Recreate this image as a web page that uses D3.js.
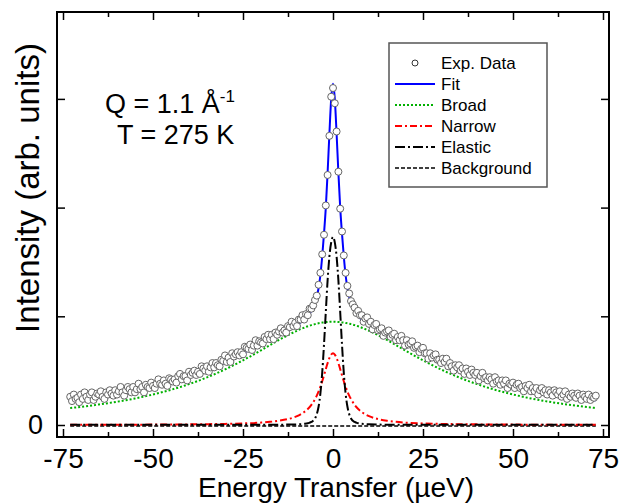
<!DOCTYPE html>
<html><head><meta charset="utf-8">
<script src="https://cdn.jsdelivr.net/npm/d3@7"></script>
<style>body{margin:0;background:#fff}svg{display:block}text{font-family:"Liberation Sans",Arial,sans-serif;fill:#000}</style>
</head><body><svg id="c" width="620" height="504"></svg>
<script>
// ---- data ----
const energy = [-73,-72.5,-72,-71.5,-71,-70.5,-70,-69.5,-69,-68.5,-68,-67.5,-67,-66.5,-66,-65.5,-65,-64.5,-64,-63.5,-63,-62.5,-62,-61.5,-61,-60.5,-60,-59.5,-59,-58.5,-58,-57.5,-57,-56.5,-56,-55.5,-55,-54.5,-54,-53.5,-53,-52.5,-52,-51.5,-51,-50.5,-50,-49.5,-49,-48.5,-48,-47.5,-47,-46.5,-46,-45.5,-45,-44.5,-44,-43.5,-43,-42.5,-42,-41.5,-41,-40.5,-40,-39.5,-39,-38.5,-38,-37.5,-37,-36.5,-36,-35.5,-35,-34.5,-34,-33.5,-33,-32.5,-32,-31.5,-31,-30.5,-30,-29.5,-29,-28.5,-28,-27.5,-27,-26.5,-26,-25.5,-25,-24.5,-24,-23.5,-23,-22.5,-22,-21.5,-21,-20.5,-20,-19.5,-19,-18.5,-18,-17.5,-17,-16.5,-16,-15.5,-15,-14.5,-14,-13.5,-13,-12.5,-12,-11.5,-11,-10.5,-10,-9.5,-9,-8.5,-8,-7.5,-7,-6.5,-6,-5.5,-5,-4.5,-4,-3.5,-3,-2.5,-2,-1.5,-1,-0.5,0,0.5,1,1.5,2,2.5,3,3.5,4,4.5,5,5.5,6,6.5,7,7.5,8,8.5,9,9.5,10,10.5,11,11.5,12,12.5,13,13.5,14,14.5,15,15.5,16,16.5,17,17.5,18,18.5,19,19.5,20,20.5,21,21.5,22,22.5,23,23.5,24,24.5,25,25.5,26,26.5,27,27.5,28,28.5,29,29.5,30,30.5,31,31.5,32,32.5,33,33.5,34,34.5,35,35.5,36,36.5,37,37.5,38,38.5,39,39.5,40,40.5,41,41.5,42,42.5,43,43.5,44,44.5,45,45.5,46,46.5,47,47.5,48,48.5,49,49.5,50,50.5,51,51.5,52,52.5,53,53.5,54,54.5,55,55.5,56,56.5,57,57.5,58,58.5,59,59.5,60,60.5,61,61.5,62,62.5,63,63.5,64,64.5,65,65.5,66,66.5,67,67.5,68,68.5,69,69.5,70,70.5,71,71.5,72,72.5,73];
const intensity = [
.26,.22,.28,.24,.25,.21,.28,.24,.30,.26,
.23,.28,.30,.23,.26,.29,.28,.31,.26,.24,
.30,.28,.32,.29,.27,.32,.28,.31,.35,.30,
.27,.32,.35,.33,.30,.35,.30,.33,.38,.33,
.35,.30,.37,.35,.34,.39,.36,.34,.38,.42,
.38,.37,.41,.38,.36,.43,.42,.40,.42,.39,
.45,.47,.42,.45,.45,.41,.49,.46,.48,.50,
.46,.49,.47,.54,.52,.50,.54,.49,.53,.57,
.53,.57,.55,.54,.60,.59,.64,.58,.62,.58,
.66,.63,.65,.67,.64,.67,.65,.72,.71,.70,
.74,.69,.73,.78,.73,.77,.76,.75,.81,.79,
.83,.79,.83,.79,.85,.83,.86,.89,.85,.87,
.85,.91,.90,.95,.91,.94,.91,.97,.97,1.01,
.97,1.02,1.01,1.07,1.07,
1.10,1.15,1.19,1.29,1.40,1.57,1.75,2.02,2.30,2.66,3.02,3.10,2.96,2.70,2.33,1.99,1.78,1.56,1.40,1.28,1.21,1.14,1.11,
1.08,1.03,1.05,1.01,1.01,.95,.98,.99,.93,.95,
.88,.92,.93,.87,.88,.89,.82,.85,.86,.87,
.81,.83,.84,.78,.81,.78,.82,.78,.73,.78,
.74,.75,.77,.71,.72,.73,.67,.70,.71,.66,
.66,.61,.66,.62,.64,.65,.60,.60,.57,.61,
.58,.61,.54,.57,.54,.50,.55,.53,.55,.50,
.52,.47,.52,.49,.46,.51,.48,.46,.48,.41,
.45,.48,.43,.44,.41,.44,.42,.38,.44,.40,
.41,.37,.41,.38,.41,.34,.38,.37,.39,.34,
.37,.38,.34,.35,.31,.36,.34,.37,.31,.34,
.31,.34,.28,.32,.34,.30,.32,.28,.32,.30,
.27,.32,.30,.28,.31,.26,.28,.31,.24,.28,
.26,.29,.27,.25,.29,.27,.23,.28,.26,.24,
.28,.23,.26,.25,.27];

const curveE = [-73,-70,-65,-60,-55,-50,-45,-40,-35,-30,-25,-20,-17.5,-15,-12.5,-10,-9,-8,-7,-6,-5,-4.5,-4,-3.5,-3,-2.5,-2,-1.5,-1,-0.5,0,0.5,1,1.5,2,2.5,3,3.5,4,4.5,5,6,7,8,9,10,12.5,15,17.5,20,25,30,35,40,45,50,55,60,65,70,73];
const fitY = [.228,.235,.256,.28,.31,.345,.385,.44,.50,.575,.66,.75,.79,.83,.87,.92,.945,.97,1.00,1.05,1.12,1.18,1.26,1.38,1.55,1.76,2.00,2.32,2.68,3.00,3.14,3.00,2.68,2.32,2.00,1.76,1.55,1.38,1.26,1.18,1.12,1.05,1.00,.97,.945,.92,.87,.83,.79,.75,.66,.575,.50,.44,.385,.345,.31,.28,.256,.235,.228];
const broadY = [.156,.167,.189,.214,.244,.281,.324,.376,.438,.511,.595,.687,.735,.782,.827,.867,.882,.895,.908,.919,.928,.932,.936,.939,.942,.944,.946,.948,.949,.95,.95,.95,.949,.948,.946,.944,.942,.939,.936,.932,.928,.919,.908,.895,.882,.867,.827,.782,.735,.687,.595,.511,.438,.376,.324,.281,.244,.214,.189,.167,.156];
const narrowY = [.0017,.0019,.0022,.0026,.0031,.0037,.0046,.0058,.0075,.010,.0145,.022,.029,.039,.0545,.081,.098,.119,.147,.185,.238,.270,.309,.353,.402,.457,.514,.569,.616,.648,.66,.648,.616,.569,.514,.457,.402,.353,.309,.270,.238,.185,.147,.119,.098,.081,.0545,.039,.029,.022,.0145,.010,.0075,.0058,.0046,.0037,.0031,.0026,.0022,.0019,.0017];
const elasticY = [.002,.002,.002,.002,.002,.002,.002,.002,.002,.002,.002,.002,.003,.003,.004,.006,.008,.011,.016,.028,.06,.10,.17,.29,.48,.74,1.04,1.33,1.55,1.68,1.73,1.68,1.55,1.33,1.04,.74,.48,.29,.17,.10,.06,.028,.016,.011,.008,.006,.004,.003,.003,.002,.002,.002,.002,.002,.002,.002,.002,.002,.002,.002,.002];
const bgE = [-73, 73];
const bgY = [-0.01, -0.01];

const xMajor = [-75,-50,-25,0,25,50,75];
const xMinor = [-62.5,-37.5,-12.5,12.5,37.5,62.5];
const yMajor = [0,1,2,3];
const yTickLabels = ["0","","",""];
const legendLabels = ["Exp. Data","Fit","Broad","Narrow","Elastic","Background"];

// ---- drawing ----
const svg = d3.select("#c");
const L = 57, R = 609, T = 12, B = 437;
const x = d3.scaleLinear().domain([-75, 75]).range([63, 603]);
const y = d3.scaleLinear().domain([0, 3]).range([425, 425 - 3 * 108.7]);

svg.append("clipPath").attr("id","clip").append("rect")
  .attr("x", L).attr("y", T).attr("width", R - L).attr("height", B - T);
const plot = svg.append("g").attr("clip-path","url(#clip)");

const line = d3.line().x(d => x(d[0])).y(d => y(d[1])).curve(d3.curveMonotoneX);
const zip = (a, b) => a.map((v, i) => [v, b[i]]);

const styles = {
  fit:    {stroke:"#0000ff", w:2, dash:null},
  broad:  {stroke:"#00b000", w:2, dash:"2,2"},
  narrow: {stroke:"#ff0000", w:2, dash:"7,3,2,3"},
  elastic:{stroke:"#000000", w:2, dash:"10,3,2,3"},
  bg:     {stroke:"#000000", w:1.5, dash:"4,2"}
};
function drawCurve(data, s) {
  plot.append("path").datum(data).attr("d", line)
    .attr("fill","none").attr("stroke", s.stroke).attr("stroke-width", s.w)
    .attr("stroke-dasharray", s.dash);
}
drawCurve(zip(bgE, bgY), styles.bg);
drawCurve(zip(curveE, narrowY), styles.narrow);
drawCurve(zip(curveE, broadY), styles.broad);
drawCurve(zip(curveE, elasticY), styles.elastic);
drawCurve(zip(curveE, fitY), styles.fit);

plot.append("g").selectAll("circle").data(zip(energy, intensity)).join("circle")
  .attr("cx", d => x(d[0])).attr("cy", d => y(d[1])).attr("r", 3.5)
  .attr("fill","#fff").attr("stroke","#666").attr("stroke-width",1);

// axes (ticks inward)
function styleAxis(g, fs) {
  g.select(".domain").remove();
  g.selectAll(".tick line").attr("stroke","#000").attr("stroke-width",1.5);
  g.selectAll("text").attr("font-size", fs).attr("font-family",'"Liberation Sans",Arial,sans-serif');
}
svg.append("g").attr("transform",`translate(0,${B})`)
  .call(d3.axisBottom(x).tickValues(xMajor).tickSize(-8).tickPadding(11).tickFormat(d => String(d)))
  .call(g => styleAxis(g, 28));
svg.append("g").attr("transform",`translate(0,${B})`)
  .call(d3.axisBottom(x).tickValues(xMinor).tickSize(-5).tickFormat(""))
  .call(g => styleAxis(g, 28));
svg.append("g").attr("transform",`translate(0,${T})`)
  .call(d3.axisTop(x).tickValues(xMajor).tickSize(-8).tickFormat(""))
  .call(g => styleAxis(g, 28));
svg.append("g").attr("transform",`translate(0,${T})`)
  .call(d3.axisTop(x).tickValues(xMinor).tickSize(-5).tickFormat(""))
  .call(g => styleAxis(g, 28));
svg.append("g").attr("transform",`translate(${L},0)`)
  .call(d3.axisLeft(y).tickValues(yMajor).tickSize(-8).tickPadding(14).tickFormat((d,i) => yTickLabels[i]))
  .call(g => styleAxis(g, 27));
svg.append("g").attr("transform",`translate(${R},0)`)
  .call(d3.axisRight(y).tickValues(yMajor).tickSize(-8).tickFormat(""))
  .call(g => styleAxis(g, 27));

svg.append("rect").attr("x", L).attr("y", T).attr("width", R - L).attr("height", B - T)
  .attr("fill","none").attr("stroke","#000").attr("stroke-width",2);

// axis titles
svg.append("text").attr("x", 336).attr("y", 497).attr("text-anchor","middle")
  .attr("font-size", 28).text("Energy Transfer (µeV)");
svg.append("text").attr("transform","translate(39,188) rotate(-90)").attr("text-anchor","middle")
  .attr("font-size", 33).text("Intensity (arb. units)");

// annotation
const q = svg.append("text").attr("x", 105).attr("y", 113).attr("font-size", 27);
q.append("tspan").text("Q = 1.1 Å");
q.append("tspan").attr("dy", -11).attr("font-size", 17).text("-1");
svg.append("text").attr("x", 117).attr("y", 144).attr("font-size", 27).text("T = 275 K");

// legend
const lg = svg.append("g");
lg.append("rect").attr("x", 389).attr("y", 43).attr("width", 158).attr("height", 144)
  .attr("fill","#fff").attr("stroke","#555").attr("stroke-width",1.5);
const legendStyles = [null, styles.fit, styles.broad, styles.narrow, styles.elastic, styles.bg];
legendLabels.forEach((lab, i) => {
  const cy = 63 + i * 21;
  if (i === 0) {
    lg.append("circle").attr("cx", 415).attr("cy", cy).attr("r", 3)
      .attr("fill","#fff").attr("stroke","#333").attr("stroke-width",1);
  } else {
    const s = legendStyles[i];
    lg.append("line").attr("x1", 395).attr("x2", 435).attr("y1", cy).attr("y2", cy)
      .attr("stroke", s.stroke).attr("stroke-width", s.w).attr("stroke-dasharray", s.dash);
  }
  lg.append("text").attr("x", 441).attr("y", cy + 6).attr("font-size", 17).text(lab);
});
</script></body></html>
